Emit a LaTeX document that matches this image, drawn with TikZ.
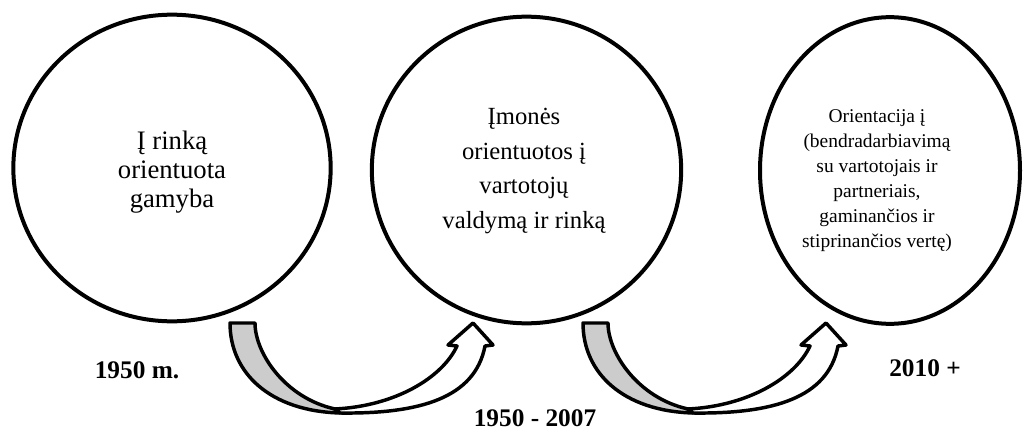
\documentclass[tikz,border=0pt]{standalone}
\usepackage{fontspec}
\setmainfont{Liberation Serif}
\usetikzlibrary{shapes.geometric}
\definecolor{tailgray}{RGB}{204,204,204}
\tikzset{
  stage/.style={ellipse, draw=black, line width=3pt, inner sep=0pt, fill=none},
  stagetext/.style={align=center, inner sep=0pt, font=\fontsize{20}{22}\selectfont},
  yearlabel/.style={inner sep=0pt, font=\fontsize{19}{22}\selectfont\bfseries},
  ribbon/.style={draw=black, line width=2.6pt, line join=round},
  pics/bentarrow/.style={code={
    % back side of the ribbon (tail), tapering to the twist
    \filldraw[ribbon, fill=tailgray]
      (0,0) .. controls (0,50) and (40,88) .. (110,90)
      -- (105,86) .. controls (55,75) and (25,30) .. (25,0) -- cycle;
    % front side of the ribbon rising into the arrow head
    \filldraw[ribbon, fill=white]
      (110,90) .. controls (190,91) and (245,75) .. (255,23)
      -- (263,22) -- (243,0) -- (218,22) -- (227,23)
      .. controls (212,55) and (165,83) .. (105,86) -- cycle;
  }}
}
\begin{document}
\begin{tikzpicture}[x=0.75pt, y=-0.75pt]
  \useasboundingbox (0,0) rectangle (1025,432);

  % three stages
  \node[stage, minimum width=238pt, minimum height=230pt] (s1) at (172,168) {};
  \node[stage, minimum width=232pt, minimum height=230pt] (s2) at (526.5,170) {};
  \node[stage, minimum width=195pt, minimum height=230pt] (s3) at (890,170.5) {};

  \node[stagetext] (t1) at (172,172) {Į rinką\\orientuota\\gamyba};
  \node[stagetext, font=\fontsize{18.5}{26}\selectfont] (t2) at (524,171) {Įmonės\\orientuotos į\\vartotojų\\valdymą ir rinką};
  \node[stagetext, font=\fontsize{14.6}{18.75}\selectfont] (t3) at (877,181) {Orientacija į\\(bendradarbiavimą\\su vartotojais ir\\partneriais,\\gaminančios ir\\stiprinančios vertę)};

  % transitions between stages
  \pic at (230,323) {bentarrow};
  \pic at (583,323) {bentarrow};

  % periods
  \node[yearlabel] (y1) at (137,370) {1950 m.};
  \node[yearlabel] (y2) at (535,418) {1950 - 2007};
  \node[yearlabel] (y3) at (925,368) {2010 +};
\end{tikzpicture}
\end{document}
